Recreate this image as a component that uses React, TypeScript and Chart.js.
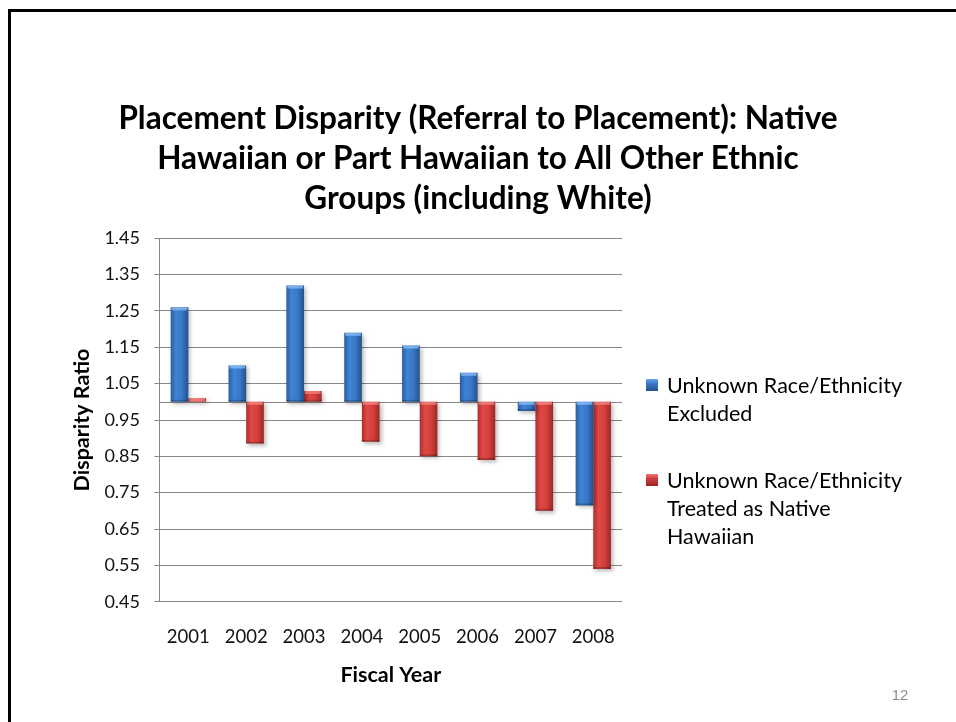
import React, { useEffect, useRef } from "react";
import { Chart, registerables } from "chart.js";

Chart.register(...registerables);

// ---- data ----
const years = ["2001", "2002", "2003", "2004", "2005", "2006", "2007", "2008"];
const excludedRatio = [1.26, 1.1, 1.32, 1.19, 1.155, 1.08, 0.975, 0.715];
const treatedRatio = [1.01, 0.885, 1.03, 0.89, 0.85, 0.84, 0.7, 0.54];
const baselineValue = 1.0;
const yTicks = [0.45, 0.55, 0.65, 0.75, 0.85, 0.95, 1.05, 1.15, 1.25, 1.35, 1.45];
const titleLines = [
  "Placement Disparity (Referral to Placement): Native",
  "Hawaiian or Part Hawaiian to All Other Ethnic",
  "Groups (including White)",
];
const seriesNames = [
  "Unknown Race/Ethnicity Excluded",
  "Unknown Race/Ethnicity Treated as Native Hawaiian",
];
const legendLines = [
  ["Unknown Race/Ethnicity", "Excluded"],
  ["Unknown Race/Ethnicity", "Treated as Native", "Hawaiian"],
];
const xTitle = "Fiscal Year";
const yTitle = "Disparity Ratio";
const pageNumber = "12";

// ---- styling ----
const FONT = "Lato, 'Open Sans', sans-serif";
const CAT_PCT = 0.61;
const GRID = "#878787";
const blueStops: [number, string][] = [
  [0, "#2a5d9f"],
  [0.3, "#4084d6"],
  [0.65, "#3977c6"],
  [1, "#24508b"],
];
const redStops: [number, string][] = [
  [0, "#ad2f2c"],
  [0.3, "#e04945"],
  [0.65, "#d33f3b"],
  [1, "#9a2825"],
];

function barFill(c: any, stops: [number, string][]) {
  const chart = c.chart;
  if (c.type !== "data" || !chart.chartArea || !chart.scales.x) return stops[1][1];
  const xs = chart.scales.x;
  const center = xs.getPixelForValue(c.dataIndex);
  const catW = (chart.chartArea.right - chart.chartArea.left) / years.length;
  const w = (catW * CAT_PCT) / 2;
  const left = c.datasetIndex === 0 ? center - w : center;
  const g = chart.ctx.createLinearGradient(left, 0, left + w, 0);
  stops.forEach(([o, col]) => g.addColorStop(o, col));
  return g;
}

const slideTitle = {
  id: "slideTitle",
  afterDraw(chart: any) {
    const { ctx } = chart;
    ctx.save();
    ctx.fillStyle = "#000";
    ctx.font = `bold 31.5px ${FONT}`;
    ctx.textAlign = "center";
    ctx.textBaseline = "middle";
    titleLines.forEach((t, i) => ctx.fillText(t, 478, 118.5 + i * 40));
    ctx.restore();
  },
};

const barEffects = {
  id: "barEffects",
  beforeDatasetsDraw(chart: any) {
    const { ctx, chartArea, scales } = chart;
    const yb = scales.y.getPixelForValue(baselineValue);
    ctx.save();
    ctx.strokeStyle = GRID;
    ctx.lineWidth = 1;
    ctx.beginPath();
    ctx.moveTo(chartArea.left, Math.round(yb) + 0.5);
    ctx.lineTo(chartArea.right, Math.round(yb) + 0.5);
    ctx.stroke();
    ctx.restore();
    ctx.save();
    ctx.shadowColor = "rgba(0,0,0,0.28)";
    ctx.shadowBlur = 4;
    ctx.shadowOffsetX = 2;
    ctx.shadowOffsetY = 2;
  },
  afterDatasetsDraw(chart: any) {
    const { ctx } = chart;
    ctx.restore();
    ctx.save();
    chart.data.datasets.forEach((ds: any, di: number) => {
      const meta = chart.getDatasetMeta(di);
      meta.data.forEach((el: any) => {
        const { x, y, base, width } = el.getProps(["x", "y", "base", "width"], true);
        const top = Math.min(y, base);
        const bottom = Math.max(y, base);
        const left = x - width / 2;
        const h = bottom - top;
        if (h < 1) return;
        ctx.fillStyle = di === 0 ? "rgba(140,190,245,0.75)" : "rgba(245,140,135,0.7)";
        ctx.fillRect(left + 1, top, width - 2, Math.min(3, h));
        if (h > 5) {
          ctx.fillStyle = "rgba(0,0,0,0.22)";
          ctx.fillRect(left, bottom - 2, width, 2);
        }
      });
    });
    ctx.restore();
  },
};

export default function App() {
  const ref = useRef<HTMLCanvasElement | null>(null);

  useEffect(() => {
    if (!ref.current) return;
    const chart = new Chart(ref.current, {
      type: "bar",
      data: {
        labels: years,
        datasets: [
          {
            label: seriesNames[0],
            data: excludedRatio.map((v) => [baselineValue, v]) as any,
            backgroundColor: (c: any) => barFill(c, blueStops),
            borderWidth: 0,
            categoryPercentage: CAT_PCT,
            barPercentage: 1,
          },
          {
            label: seriesNames[1],
            data: treatedRatio.map((v) => [baselineValue, v]) as any,
            backgroundColor: (c: any) => barFill(c, redStops),
            borderWidth: 0,
            categoryPercentage: CAT_PCT,
            barPercentage: 1,
          },
        ],
      },
      options: {
        responsive: false,
        animation: false,
        devicePixelRatio: 1,
        layout: { padding: { left: 0, right: 333.8, top: 238.3, bottom: 0 } },
        plugins: {
          legend: { display: false },
          tooltip: { enabled: false },
          title: { display: false },
        },
        scales: {
          x: {
            grid: { display: false },
            border: { display: false },
            afterFit: (scale: any) => {
              scale.height = 120.3;
            },
            ticks: {
              color: "#111",
              font: { family: FONT, size: 18.5, lineHeight: 1.2 },
              padding: 16,
              maxRotation: 0,
            },
            title: {
              display: true,
              text: xTitle,
              color: "#000",
              font: { family: FONT, size: 21.5, weight: "bold", lineHeight: 1.2 },
              padding: { top: 10, bottom: 34 },
            },
          },
          y: {
            min: 0.45,
            max: 1.45,
            afterBuildTicks: (scale: any) => {
              scale.ticks = yTicks.map((v) => ({ value: v }));
            },
            afterFit: (scale: any) => {
              scale.width = 159.4;
            },
            grid: { color: GRID, tickLength: 5, lineWidth: 1 },
            border: { display: true, color: GRID, width: 1 },
            ticks: {
              color: "#111",
              font: { family: FONT, size: 18, lineHeight: 1.2 },
              padding: 14.4,
              callback: (v: any) => Number(v).toFixed(2),
            },
            title: {
              display: true,
              text: yTitle,
              color: "#000",
              font: { family: FONT, size: 21.5, weight: "bold", lineHeight: 1.2 },
              padding: { top: 69, bottom: 4 },
            },
          },
        },
      },
      plugins: [barEffects, slideTitle],
    });
    return () => chart.destroy();
  }, []);

  const squareBg = [
    "linear-gradient(180deg, #6aa6ec 0%, #3a7bcb 35%, #24508b 100%)",
    "linear-gradient(180deg, #f07c78 0%, #d2403c 35%, #972622 100%)",
  ];
  const itemTops = [371, 466];

  return (
    <div
      style={{
        position: "fixed",
        left: 0,
        top: 0,
        width: 956,
        height: 722,
        overflow: "hidden",
        background: "#fff",
      }}
    >
      <canvas ref={ref} width={956} height={722} style={{ position: "absolute", left: 0, top: 0 }} />
      <div
        style={{
          position: "absolute",
          left: 7.5,
          top: 9,
          width: 1100,
          height: 900,
          borderTop: "3px solid #000",
          borderLeft: "3px solid #000",
          pointerEvents: "none",
        }}
      />
      {legendLines.map((lines, i) => (
        <div
          key={i}
          style={{
            position: "absolute",
            left: 646,
            top: itemTops[i],
            fontFamily: FONT,
            fontSize: 21.5,
            lineHeight: "28px",
            color: "#000",
          }}
        >
          <div
            style={{
              position: "absolute",
              left: 0,
              top: 8,
              width: 12,
              height: 12,
              background: squareBg[i],
            }}
          />
          <div style={{ marginLeft: 21, whiteSpace: "nowrap" }}>
            {lines.map((l, j) => (
              <div key={j}>{l}</div>
            ))}
          </div>
        </div>
      ))}
      <div
        style={{
          position: "absolute",
          left: 880,
          width: 40,
          top: 685,
          textAlign: "center",
          fontFamily: "'Liberation Sans', Arial, sans-serif",
          fontSize: 15,
          lineHeight: "20px",
          color: "#8c8c8c",
        }}
      >
        {pageNumber}
      </div>
    </div>
  );
}
